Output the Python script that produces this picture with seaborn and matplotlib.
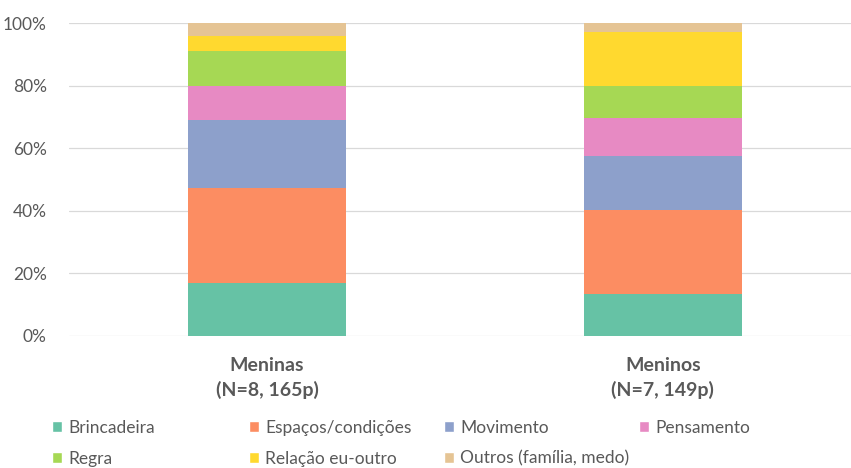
import pandas as pd
import matplotlib.pyplot as plt
import seaborn as sns
from matplotlib.patches import Patch
from matplotlib.ticker import PercentFormatter

grupos = ['Meninas\n(N=8, 165p)', 'Meninos\n(N=7, 149p)']
categorias = ['Brincadeira', 'Espaços/condições', 'Movimento', 'Pensamento',
              'Regra', 'Relação eu-outro', 'Outros (família, medo)']
meninas = [16.9, 30.4, 21.8, 10.9, 10.9, 4.9, 4.2]
meninos = [13.4, 26.8, 17.4, 12.1, 10.1, 17.4, 2.8]
cores = ['#66c2a5', '#fc8d62', '#8da0cb', '#e78ac3', '#a6d854', '#ffd92f', '#e5c494']

df = pd.DataFrame({'Categoria': categorias * 2,
                   'Grupo': [grupos[0]] * 7 + [grupos[1]] * 7,
                   'Pct': meninas + meninos})
df['Base'] = df.groupby('Grupo')['Pct'].cumsum() - df['Pct']

sns.set_theme(style='white')
plt.rcParams['font.family'] = ['Lato', 'DejaVu Sans']
cinza = '#595959'

fig = plt.figure(figsize=(8.51, 4.68), dpi=100)
ax = fig.add_axes([69 / 851, 1 - 336 / 468, 1 - 69 / 851, 313 / 468])

for cat, cor in zip(categorias, cores):
    sub = df[df['Categoria'] == cat]
    sns.barplot(data=sub, x='Grupo', y='Pct', bottom=sub['Base'].values,
                order=grupos, color=cor, width=0.4, ax=ax, zorder=3,
                linewidth=0, saturation=1)

ax.set_ylim(0, 100)
ax.set_xlim(-0.5, 1.475)
ax.set_yticks(range(0, 101, 20))
ax.yaxis.set_major_formatter(PercentFormatter(decimals=0))
ax.grid(axis='y', color='#d9d9d9', linewidth=0.9, zorder=0)
ax.set_axisbelow(True)
for s in ax.spines.values():
    s.set_visible(False)
ax.set_xlabel('')
ax.set_ylabel('')
ax.tick_params(axis='y', length=0, pad=16, labelsize=12.5, labelcolor=cinza)
ax.tick_params(axis='x', length=0, pad=15, labelsize=14, labelcolor=cinza)
for t in ax.get_xticklabels():
    t.set_fontweight('bold')
    t.set_linespacing(1.5)

# legenda em 4 colunas de largura igual
xs = [52, 249, 444, 639]
for i, x in enumerate(xs):
    idx = [j for j in (i, i + 4) if j < len(categorias)]
    handles = [Patch(facecolor=cores[j], label=categorias[j]) for j in idx]
    fig.legend(handles=handles, loc='upper left',
               bbox_to_anchor=(x / 851, 1 - 420 / 468), frameon=False,
               handlelength=0.6, handleheight=0.6, handletextpad=0.35,
               labelspacing=0.85, borderaxespad=0, borderpad=0,
               prop={'size': 12.5}, labelcolor=cinza)

plt.savefig('out.png', dpi=100)
plt.close()
